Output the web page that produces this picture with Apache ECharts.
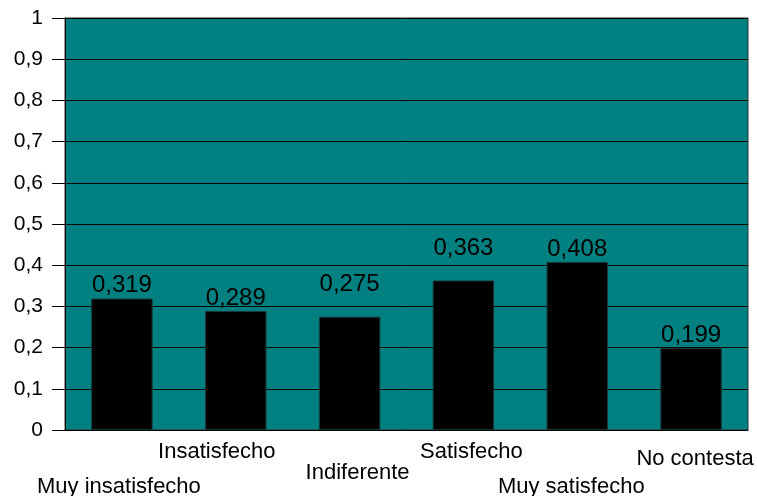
<!DOCTYPE html>
<html>
<head>
<meta charset="utf-8">
<script src="https://cdn.jsdelivr.net/npm/echarts@6/dist/echarts.min.js"></script>
<style>
  html, body { margin: 0; padding: 0; background: #fff; }
  #chart { width: 757px; height: 496px; }
</style>
</head>
<body>
<div id="chart"></div>
<script>
// datos del gráfico
const categorias = ['Muy insatisfecho', 'Insatisfecho', 'Indiferente', 'Satisfecho', 'Muy satisfecho', 'No contesta'];
const valores = [0.319, 0.289, 0.275, 0.363, 0.408, 0.199];
// estilo de cada etiqueta (las etiquetas van escalonadas)
const filaEtiqueta = ['e0', 'e1', 'e2', 'e3', 'e4', 'e5'];
// separación extra de algunas etiquetas de valor
const separacion = [1, 1, 20, 20, 1, 1];

const coma = v => String(v).replace('.', ',');

const chart = echarts.init(document.getElementById('chart'), null, { renderer: 'canvas' });

const option = {
  animation: false,
  textStyle: { fontFamily: 'Liberation Sans, Arial, sans-serif' },
  grid: {
    left: 65, right: 9, top: 18, bottom: 66,
    outerBoundsMode: 'none',
    show: true,
    backgroundColor: '#008080',
    borderColor: '#333',
    borderWidth: 1
  },
  xAxis: {
    type: 'category',
    data: categorias,
    axisLine: { lineStyle: { color: '#000', width: 1 } },
    axisTick: { alignWithLabel: true, length: 11, lineStyle: { color: '#555' } },
    axisLabel: {
      interval: 0,
      color: '#000',
      fontSize: 22,
      margin: 1,
      formatter: (v, i) => '{' + filaEtiqueta[i] + '|' + v + '}',
      rich: {
        e0: { fontSize: 22, padding: [45, 6, 0, 0] },
        e1: { fontSize: 22, padding: [10, 38, 0, 0] },
        e2: { fontSize: 22, padding: [31, 0, 0, 16] },
        e3: { fontSize: 22, padding: [10, 0, 0, 16] },
        e4: { fontSize: 22, padding: [45, 12, 0, 0] },
        e5: { fontSize: 22, padding: [17, 0, 0, 8] }
      }
    }
  },
  yAxis: {
    type: 'value',
    min: 0, max: 1, interval: 0.1,
    axisLine: { show: true, lineStyle: { color: '#000' } },
    axisTick: { show: true, length: 13, lineStyle: { color: '#000' } },
    axisLabel: {
      color: '#000', fontSize: 21, margin: 22,
      formatter: v => coma(Math.round(v * 10) / 10)
    },
    splitLine: { lineStyle: { color: '#000', width: 1 } }
  },
  series: [{
    type: 'bar',
    data: valores.map((v, i) => ({ value: v, label: { distance: separacion[i] } })),
    barCategoryGap: '46%',
    itemStyle: { color: '#000', borderColor: '#1a3a3a', borderWidth: 1 },
    label: {
      show: true,
      position: 'top',
      color: '#000',
      fontSize: 24,
      formatter: p => coma(p.value)
    }
  }]
};

chart.setOption(option);
</script>
</body>
</html>
